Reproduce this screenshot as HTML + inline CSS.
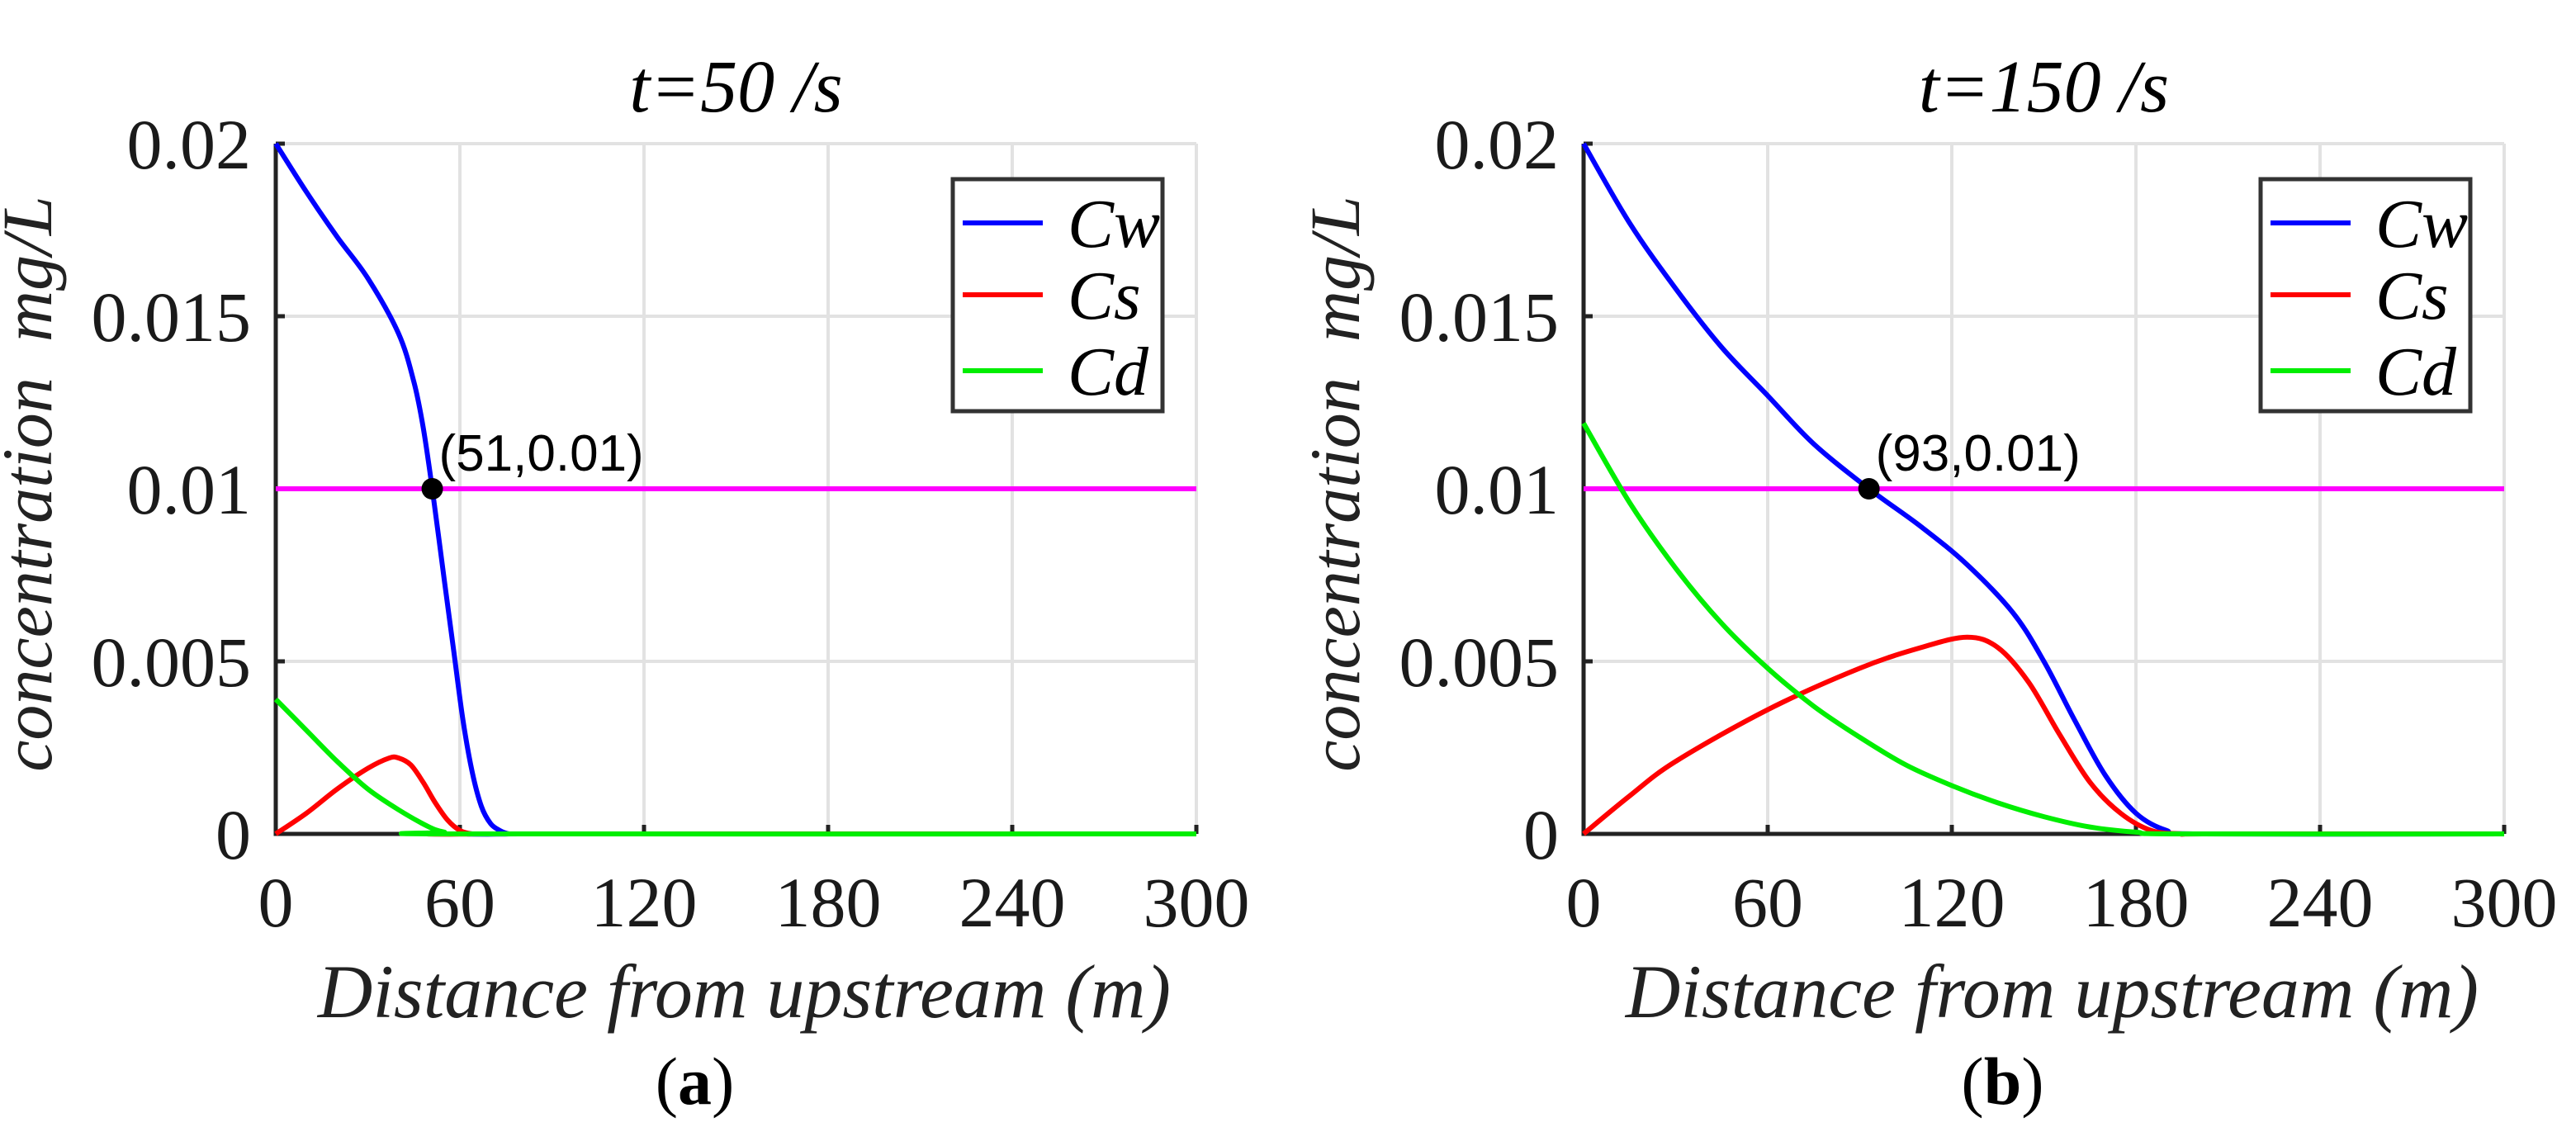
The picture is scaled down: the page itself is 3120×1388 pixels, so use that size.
<!DOCTYPE html>
<html><head><meta charset="utf-8"><style>
html,body{margin:0;padding:0;background:#fff;}
svg{display:block;}
</style></head><body>
<svg id="fig" width="3120" height="1388" xmlns="http://www.w3.org/2000/svg"></svg>
<script>
const xTicks=[0,60,120,180,240,300];
const yTicks=[0,0.005,0.01,0.015,0.02];
const yTickLabels=["0","0.005","0.01","0.015","0.02"];
const threshold=0.01;
// panel a
const aX_cw=[0,10,20,30,40,45,48,51,55,58,61,64,67,70,73,76,80,300];
const aY_cw=[0.02,0.0186,0.0173,0.0161,0.0145,0.0131,0.0118,0.01,0.0073,0.0053,0.0033,0.0018,0.0008,0.0003,0.0001,0,0,0];
const aX_cs=[0,10,20,30,37,40,44,48,52,56,60,64,68,300];
const aY_cs=[0,0.0006,0.0013,0.0019,0.0022,0.0022,0.002,0.0015,0.0009,0.0004,0.0001,0,0,0];
const aX_cd=[0,10,20,30,40,50,55,60,300];
const aY_cd=[0.0039,0.003,0.0021,0.0013,0.0007,0.0002,0.00005,0,0];
const aMark=[51,0.01];
// panel b
const bX_cw=[0,15,30,45,60,75,93,110,125,140,150,160,170,180,190,200,300];
const bY_cw=[0.02,0.0177,0.0158,0.0141,0.0127,0.0113,0.01,0.0089,0.0078,0.0064,0.005,0.0033,0.0017,0.0006,0.0001,0,0];
const bX_cs=[0,15,30,60,90,110,125,135,145,155,165,175,185,195,205,300];
const bY_cs=[0,0.0011,0.0021,0.0036,0.0048,0.0054,0.0057,0.0054,0.0044,0.0029,0.0015,0.0006,0.0001,0,0,0];
const bX_cd=[0,15,30,45,60,75,90,105,120,135,150,165,180,195,300];
const bY_cd=[0.0119,0.0096,0.0077,0.0061,0.0048,0.0037,0.0028,0.002,0.0014,0.0009,0.0005,0.0002,0.00005,0,0];
const bMark=[93,0.01];

const NS="http://www.w3.org/2000/svg";
const svg=document.getElementById('fig');
function mk(tag,attrs,parent,text){const e=document.createElementNS(NS,tag);for(const k in attrs)e.setAttribute(k,attrs[k]);if(text!==undefined)e.textContent=text;(parent||svg).appendChild(e);return e;}
function smooth(pts){let d="M"+pts[0][0]+","+pts[0][1];for(let i=0;i<pts.length-1;i++){const p0=pts[i-1]||pts[i],p1=pts[i],p2=pts[i+1],p3=pts[i+2]||p2;const c1=[p1[0]+(p2[0]-p0[0])/6,p1[1]+(p2[1]-p0[1])/6],c2=[p2[0]-(p3[0]-p1[0])/6,p2[1]-(p3[1]-p1[1])/6];d+=` C${c1[0]},${c1[1]} ${c2[0]},${c2[1]} ${p2[0]},${p2[1]}`;}return d;}

function panel(id,L,R,T,B,title,series,mark,cap,legX){
  const g=mk('g',{});
  
  
  const sx=v=>L+(v-0)/300*(R-L), sy=v=>B-(v/0.02)*(B-T);
  xTicks.forEach(t=>{const l=mk('line',{x1:sx(t),x2:sx(t),y1:T,y2:B,stroke:'#e2e2e2','stroke-width':4},g);});
  yTicks.forEach(t=>{const l=mk('line',{x1:L,x2:R,y1:sy(t),y2:sy(t),stroke:'#e2e2e2','stroke-width':4},g);});
  const ax=mk('path',{d:`M${L},${T} L${L},${B} L${R},${B}`,fill:'none',stroke:'#222','stroke-width':5},g);
  
  xTicks.forEach(t=>{mk('line',{x1:sx(t),x2:sx(t),y1:B,y2:B-11,stroke:'#222','stroke-width':5},g);
    const tx=mk('text',{x:sx(t),y:1122,'text-anchor':'middle','font-family':'Liberation Serif, serif','font-size':86,fill:'#1a1a1a'},g,String(t));
    });
  yTicks.forEach((t,i)=>{mk('line',{x1:L,x2:L+11,y1:sy(t),y2:sy(t),stroke:'#222','stroke-width':5},g);
    const tx=mk('text',{x:L-30,y:sy(t)+30,'text-anchor':'end','font-family':'Liberation Serif, serif','font-size':86,fill:'#1a1a1a'},g,yTickLabels[i]);
    });
  const th=mk('line',{x1:L,x2:R,y1:sy(threshold),y2:sy(threshold),stroke:'#ff00ff','stroke-width':6},g);
  
  series.forEach(s=>{const pts=s.x.map((v,i)=>[sx(v),sy(s.y[i])]);
    const p=mk('path',{d:smooth(pts),fill:'none',stroke:s.c,'stroke-width':6,'stroke-linejoin':'round'},g);
    });
  const dot=mk('circle',{cx:sx(mark[0]),cy:sy(mark[1]),r:13,fill:'#000'},g);
  
  const at=mk('text',{x:sx(mark[0])+8,y:sy(mark[1])-22,'font-family':'Liberation Sans, sans-serif','font-size':62,fill:'#000'},g,`(${mark[0]},${mark[1]})`);
  
  const lg=mk('g',{},g);
  mk('rect',{x:legX,y:T+43,width:254,height:281,fill:'#fff',stroke:'#333','stroke-width':5},lg);
  const ys=[96,183,275];
  series.forEach((s,i)=>{const yy=T+ys[i];
    const ln=mk('line',{x1:legX+12,x2:legX+109,y1:yy,y2:yy,stroke:s.c,'stroke-width':6},lg);
    
    const lt=mk('text',{x:legX+139,y:yy+29,'font-family':'Liberation Serif, serif','font-style':'italic','font-size':84,fill:'#000'},lg,s.n);
    });
  const ti=mk('text',{x:(L+R)/2,y:135,'text-anchor':'middle','font-family':'Liberation Serif, serif','font-style':'italic','font-size':90,fill:'#000'},g,title);
  
  const xl=mk('text',{x:(L+R)/2+10,y:1232,'text-anchor':'middle','font-family':'Liberation Serif, serif','font-style':'italic','font-size':92,fill:'#222'},g,'Distance from upstream (m)');
  
  const yc=586, xc=L-272;
  const yl=mk('text',{x:xc,y:yc,'text-anchor':'middle','font-family':'Liberation Serif, serif','font-style':'italic','font-size':86,fill:'#222',transform:`rotate(-90 ${xc} ${yc})`,style:'white-space:pre'},g,'concentration  mg/L');
  
  const cp=mk('text',{x:(L+R)/2-50,y:1337,'text-anchor':'middle','font-family':'Liberation Serif, serif','font-size':82,fill:'#000'},g);
  
  mk('tspan',{},cp,'(');mk('tspan',{'font-weight':'bold'},cp,cap);mk('tspan',{},cp,')');
}
panel('panel-a',334,1449,174,1010,'t=50 /s',[
  {n:'Cw',c:'#0000ff',x:aX_cw,y:aY_cw},{n:'Cs',c:'#ff0000',x:aX_cs,y:aY_cs},{n:'Cd',c:'#00ee00',x:aX_cd,y:aY_cd}],aMark,'a',1154);
panel('panel-b',1918,3033,174,1010,'t=150 /s',[
  {n:'Cw',c:'#0000ff',x:bX_cw,y:bY_cw},{n:'Cs',c:'#ff0000',x:bX_cs,y:bY_cs},{n:'Cd',c:'#00ee00',x:bX_cd,y:bY_cd}],bMark,'b',2738);
</script>
</body></html>
